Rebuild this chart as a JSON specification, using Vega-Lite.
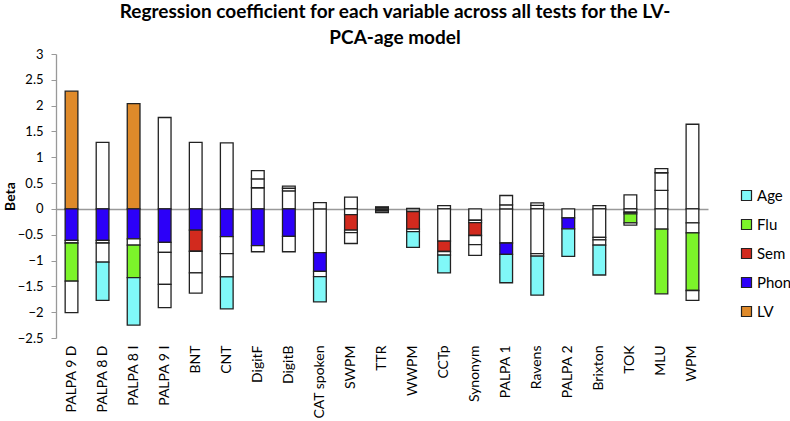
{
  "$schema": "https://vega.github.io/schema/vega-lite/v6.json",
  "autosize": "none",
  "width": 652,
  "height": 284,
  "padding": {"left": 56, "top": 54, "right": 82, "bottom": 83},
  "background": "white",
  "title": {
    "text": ["Regression coefficient for each variable across all tests for the LV-", "PCA-age model"],
    "font": "Lato",
    "fontSize": 19,
    "fontWeight": "bold",
    "color": "#000",
    "lineHeight": 26,
    "anchor": "middle",
    "dx": 13,
    "offset": 0
  },
  "data": {
    "values": [
      {"test": "PALPA 9 D", "variable": "LV", "beta": 2.28, "sig": true},
      {"test": "PALPA 9 D", "variable": "Phon", "beta": -0.61, "sig": true},
      {"test": "PALPA 9 D", "variable": "Sem", "beta": -0.05, "sig": false},
      {"test": "PALPA 9 D", "variable": "Flu", "beta": -0.74, "sig": true},
      {"test": "PALPA 9 D", "variable": "Age", "beta": -0.61, "sig": false},
      {"test": "PALPA 8 D", "variable": "LV", "beta": 1.29, "sig": false},
      {"test": "PALPA 8 D", "variable": "Phon", "beta": -0.61, "sig": true},
      {"test": "PALPA 8 D", "variable": "Sem", "beta": -0.05, "sig": false},
      {"test": "PALPA 8 D", "variable": "Flu", "beta": -0.37, "sig": false},
      {"test": "PALPA 8 D", "variable": "Age", "beta": -0.74, "sig": true},
      {"test": "PALPA 8 I", "variable": "LV", "beta": 2.04, "sig": true},
      {"test": "PALPA 8 I", "variable": "Phon", "beta": -0.58, "sig": true},
      {"test": "PALPA 8 I", "variable": "Sem", "beta": -0.12, "sig": false},
      {"test": "PALPA 8 I", "variable": "Flu", "beta": -0.63, "sig": true},
      {"test": "PALPA 8 I", "variable": "Age", "beta": -0.92, "sig": true},
      {"test": "PALPA 9 I", "variable": "LV", "beta": 1.77, "sig": false},
      {"test": "PALPA 9 I", "variable": "Phon", "beta": -0.65, "sig": true},
      {"test": "PALPA 9 I", "variable": "Sem", "beta": -0.19, "sig": false},
      {"test": "PALPA 9 I", "variable": "Flu", "beta": -0.62, "sig": false},
      {"test": "PALPA 9 I", "variable": "Age", "beta": -0.45, "sig": false},
      {"test": "BNT", "variable": "LV", "beta": 1.29, "sig": false},
      {"test": "BNT", "variable": "Phon", "beta": -0.41, "sig": true},
      {"test": "BNT", "variable": "Sem", "beta": -0.41, "sig": true},
      {"test": "BNT", "variable": "Flu", "beta": -0.42, "sig": false},
      {"test": "BNT", "variable": "Age", "beta": -0.39, "sig": false},
      {"test": "CNT", "variable": "LV", "beta": 1.28, "sig": false},
      {"test": "CNT", "variable": "Phon", "beta": -0.535, "sig": true},
      {"test": "CNT", "variable": "Sem", "beta": -0.33, "sig": false},
      {"test": "CNT", "variable": "Flu", "beta": -0.45, "sig": false},
      {"test": "CNT", "variable": "Age", "beta": -0.62, "sig": true},
      {"test": "DigitF", "variable": "LV", "beta": 0.41, "sig": false},
      {"test": "DigitF", "variable": "Phon", "beta": -0.71, "sig": true},
      {"test": "DigitF", "variable": "Sem", "beta": 0.17, "sig": false},
      {"test": "DigitF", "variable": "Flu", "beta": 0.16, "sig": false},
      {"test": "DigitF", "variable": "Age", "beta": -0.12, "sig": false},
      {"test": "DigitB", "variable": "LV", "beta": 0.35, "sig": false},
      {"test": "DigitB", "variable": "Phon", "beta": -0.53, "sig": true},
      {"test": "DigitB", "variable": "Sem", "beta": 0.05, "sig": false},
      {"test": "DigitB", "variable": "Flu", "beta": 0.04, "sig": false},
      {"test": "DigitB", "variable": "Age", "beta": -0.3, "sig": false},
      {"test": "CAT spoken", "variable": "LV", "beta": -0.845, "sig": false},
      {"test": "CAT spoken", "variable": "Phon", "beta": -0.365, "sig": true},
      {"test": "CAT spoken", "variable": "Sem", "beta": -0.1, "sig": false},
      {"test": "CAT spoken", "variable": "Flu", "beta": 0.12, "sig": false},
      {"test": "CAT spoken", "variable": "Age", "beta": -0.49, "sig": true},
      {"test": "SWPM", "variable": "LV", "beta": 0.23, "sig": false},
      {"test": "SWPM", "variable": "Phon", "beta": -0.11, "sig": false},
      {"test": "SWPM", "variable": "Sem", "beta": -0.3, "sig": true},
      {"test": "SWPM", "variable": "Flu", "beta": -0.05, "sig": false},
      {"test": "SWPM", "variable": "Age", "beta": -0.21, "sig": false},
      {"test": "TTR", "variable": "LV", "beta": 0.03, "sig": false},
      {"test": "TTR", "variable": "Phon", "beta": -0.02, "sig": false},
      {"test": "TTR", "variable": "Sem", "beta": -0.02, "sig": false},
      {"test": "TTR", "variable": "Flu", "beta": 0.01, "sig": false},
      {"test": "TTR", "variable": "Age", "beta": -0.03, "sig": false},
      {"test": "WWPM", "variable": "LV", "beta": 0.01, "sig": false},
      {"test": "WWPM", "variable": "Phon", "beta": -0.05, "sig": false},
      {"test": "WWPM", "variable": "Sem", "beta": -0.34, "sig": true},
      {"test": "WWPM", "variable": "Flu", "beta": -0.05, "sig": false},
      {"test": "WWPM", "variable": "Age", "beta": -0.305, "sig": true},
      {"test": "CCTp", "variable": "LV", "beta": 0.065, "sig": false},
      {"test": "CCTp", "variable": "Phon", "beta": -0.625, "sig": false},
      {"test": "CCTp", "variable": "Sem", "beta": -0.2, "sig": true},
      {"test": "CCTp", "variable": "Flu", "beta": -0.07, "sig": false},
      {"test": "CCTp", "variable": "Age", "beta": -0.345, "sig": true},
      {"test": "Synonym", "variable": "LV", "beta": -0.22, "sig": false},
      {"test": "Synonym", "variable": "Phon", "beta": -0.045, "sig": false},
      {"test": "Synonym", "variable": "Sem", "beta": -0.25, "sig": true},
      {"test": "Synonym", "variable": "Flu", "beta": -0.175, "sig": false},
      {"test": "Synonym", "variable": "Age", "beta": -0.21, "sig": false},
      {"test": "PALPA 1", "variable": "LV", "beta": -0.66, "sig": false},
      {"test": "PALPA 1", "variable": "Phon", "beta": -0.22, "sig": true},
      {"test": "PALPA 1", "variable": "Sem", "beta": 0.08, "sig": false},
      {"test": "PALPA 1", "variable": "Flu", "beta": 0.18, "sig": false},
      {"test": "PALPA 1", "variable": "Age", "beta": -0.55, "sig": true},
      {"test": "Ravens", "variable": "LV", "beta": 0.07, "sig": false},
      {"test": "Ravens", "variable": "Phon", "beta": -0.865, "sig": false},
      {"test": "Ravens", "variable": "Sem", "beta": 0.045, "sig": false},
      {"test": "Ravens", "variable": "Flu", "beta": -0.05, "sig": false},
      {"test": "Ravens", "variable": "Age", "beta": -0.755, "sig": true},
      {"test": "PALPA 2", "variable": "LV", "beta": -0.175, "sig": false},
      {"test": "PALPA 2", "variable": "Phon", "beta": -0.21, "sig": true},
      {"test": "PALPA 2", "variable": "Age", "beta": -0.535, "sig": true},
      {"test": "Brixton", "variable": "LV", "beta": 0.065, "sig": false},
      {"test": "Brixton", "variable": "Phon", "beta": -0.55, "sig": false},
      {"test": "Brixton", "variable": "Sem", "beta": -0.05, "sig": false},
      {"test": "Brixton", "variable": "Flu", "beta": -0.1, "sig": false},
      {"test": "Brixton", "variable": "Age", "beta": -0.58, "sig": true},
      {"test": "TOK", "variable": "LV", "beta": 0.27, "sig": false},
      {"test": "TOK", "variable": "Phon", "beta": -0.065, "sig": false},
      {"test": "TOK", "variable": "Sem", "beta": -0.03, "sig": false},
      {"test": "TOK", "variable": "Flu", "beta": -0.175, "sig": true},
      {"test": "TOK", "variable": "Age", "beta": -0.045, "sig": false},
      {"test": "MLU", "variable": "LV", "beta": 0.36, "sig": false},
      {"test": "MLU", "variable": "Phon", "beta": -0.39, "sig": false},
      {"test": "MLU", "variable": "Sem", "beta": 0.34, "sig": false},
      {"test": "MLU", "variable": "Flu", "beta": -1.255, "sig": true},
      {"test": "MLU", "variable": "Age", "beta": 0.08, "sig": false},
      {"test": "WPM", "variable": "LV", "beta": 1.64, "sig": false},
      {"test": "WPM", "variable": "Phon", "beta": -0.27, "sig": false},
      {"test": "WPM", "variable": "Sem", "beta": -0.195, "sig": false},
      {"test": "WPM", "variable": "Flu", "beta": -1.115, "sig": true},
      {"test": "WPM", "variable": "Age", "beta": -0.19, "sig": false}
    ]
  },
  "transform": [
    {"calculate": "indexof(['LV','Phon','Sem','Flu','Age'], datum.variable)", "as": "ord"},
    {"calculate": "datum.sig ? datum.variable : 'ns'", "as": "cat"}
  ],
  "mark": {"type": "bar", "stroke": "#222", "strokeWidth": 1.3},
  "encoding": {
    "x": {
      "field": "test",
      "type": "nominal",
      "sort": null,
      "scale": {"paddingInner": 0.59, "paddingOuter": 0.295},
      "axis": {
        "title": null,
        "labelAngle": -90,
        "labelAlign": "right",
        "labelBaseline": "middle",
        "labelPadding": 7,
        "domain": false,
        "ticks": false,
        "labelFont": "Lato",
        "labelFontSize": 14,
        "labelColor": "#000",
        "labelOverlap": false
      }
    },
    "y": {
      "field": "beta",
      "type": "quantitative",
      "stack": "zero",
      "scale": {"domain": [-2.5, 3], "nice": false},
      "axis": {
        "title": "Beta",
        "titleFont": "Lato",
        "titleFontSize": 14,
        "titleFontWeight": "bold",
        "titleColor": "#000",
        "titlePadding": 0,
        "values": [-2.5, -2, -1.5, -1, -0.5, 0, 0.5, 1, 1.5, 2, 2.5, 3],
        "format": "~g",
        "labelOverlap": false,
        "labelBound": false,
        "labelFlush": false,
        "labelFont": "Lato",
        "labelFontSize": 13,
        "labelColor": "#000",
        "grid": true,
        "gridColor": "#999",
        "gridWidth": 1.5,
        "gridOpacity": {"condition": {"test": "datum.value === 0", "value": 1}, "value": 0},
        "domainColor": "#999",
        "domainWidth": 1.3,
        "tickColor": "#999",
        "tickSize": 5,
        "labelPadding": 8
      }
    },
    "order": {"field": "ord", "type": "quantitative", "sort": "ascending"},
    "color": {
      "field": "cat",
      "type": "nominal",
      "scale": {
        "domain": ["Age", "Flu", "Sem", "Phon", "LV", "ns"],
        "range": ["#80F8F8", "#7CF42A", "#D22A1E", "#2C00F8", "#DF8A2A", "#FFFFFF"]
      },
      "legend": {
        "title": null,
        "values": ["Age", "Flu", "Sem", "Phon", "LV"],
        "orient": "none",
        "legendX": 683,
        "legendY": 134,
        "symbolType": "square",
        "symbolSize": 100,
        "symbolStrokeColor": "#222",
        "symbolStrokeWidth": 1.2,
        "symbolOpacity": 1,
        "labelFont": "Lato",
        "labelFontSize": 15,
        "labelColor": "#000",
        "labelOffset": 3,
        "rowPadding": 13
      }
    }
  },
  "config": {
    "view": {"stroke": null}
  }
}
